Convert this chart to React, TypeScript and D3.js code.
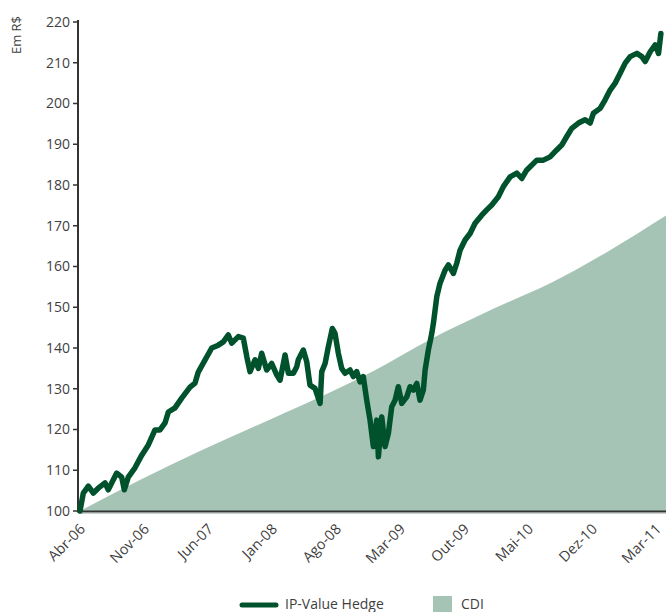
import * as d3 from "d3";

// months since Abr-06
const hedgeMonths = [
  0, 0.34, 0.85, 1.36, 1.86, 2.55, 2.88, 3.74, 4.25, 4.51, 4.92, 5.6, 6.29, 6.96,
  7.64, 8.15, 8.66, 9.0, 9.68, 10.36, 11.21, 11.72, 12.05, 12.56, 13.42, 14.09,
  14.6, 15.11, 15.46, 16.13, 16.64, 16.99, 17.32, 17.83, 18.17, 18.51, 19.02,
  19.53, 20.04, 20.38, 20.89, 21.23, 21.74, 22.08, 22.24, 22.75, 23.1, 23.43,
  23.94, 24.46, 24.63, 24.97, 25.3, 25.71, 25.98, 26.32, 26.66, 27.0, 27.51,
  27.85, 28.19, 28.53, 28.86, 29.21, 29.55, 29.89, 30.23, 30.4, 30.74, 31.08,
  31.42, 31.76, 32.1, 32.43, 32.78, 33.29, 33.63, 33.96, 34.31, 34.64, 34.98,
  35.16, 35.49, 35.84, 36.0, 36.35, 36.68, 37.19, 37.53, 38.04, 38.38, 38.72,
  39.23, 39.74, 40.25, 40.93, 41.44, 41.95, 42.62, 43.13, 43.82, 44.5, 45.01,
  45.52, 45.86, 46.54, 47.21, 47.89, 48.57, 49.08, 49.59, 50.1, 50.78, 51.46,
  51.97, 52.3, 52.99, 53.5, 54.01, 54.52, 55.03, 55.54, 56.05, 56.73, 57.24,
  57.58, 58.09, 58.6, 58.94, 59.18,
];
const hedgeValues = [
  100, 104.4, 106.1, 104.4, 105.6, 106.9, 105.2, 109.3, 108.3, 105.2, 108.3,
  110.6, 113.7, 116.2, 119.9, 119.9, 121.6, 124.3, 125.3, 127.7, 130.4, 131.4,
  134.1, 136.3, 140, 140.7, 141.5, 143.2, 141.2, 142.8, 142.4, 137.9, 134.2,
  137.1, 135, 138.7, 134.6, 136.2, 133.4, 132.1, 138.3, 133.8, 133.8, 135.4,
  137.1, 139.5, 136.6, 130.9, 130.1, 126.4, 134.2, 136.2, 140.3, 144.8, 143.6,
  138.7, 135, 133.8, 134.6, 133, 134.2, 131.7, 133, 127.2, 122.3, 115.8, 122.3,
  113.3, 123.1, 115.8, 119.1, 125.6, 127.2, 130.5, 126.4, 128, 130.5, 129.7,
  131.3, 127.2, 129.7, 134.6, 139.5, 143.6, 146, 152.6, 155.9, 159.1, 160.4,
  158.3, 160.8, 164, 166.5, 168.1, 170.6, 172.6, 173.9, 175.1, 177.1, 179.6, 182,
  182.9, 181.6, 183.7, 184.5, 186.1, 186.1, 186.9, 188.6, 189.8, 191.9, 193.9,
  195.2, 196, 195.2, 197.6, 198.8, 200.9, 203.3, 205, 207.4, 209.9, 211.5, 212.3,
  211.5, 210.3, 212.7, 214.4, 212.3, 217.2,
];

const cdiMonths = [0, 6, 12, 18, 24, 30, 36, 42, 48, 54, 59.7];
const cdiValues = [100, 107.5, 114.5, 121, 127.5, 134.5, 142.5, 149.5, 156, 164, 172.5];

const xLabels = [
  "Abr-06", "Nov-06", "Jun-07", "Jan-08", "Ago-08",
  "Mar-09", "Out-09", "Mai-10", "Dez-10", "Mar-11",
];
const yTicks = [100, 110, 120, 130, 140, 150, 160, 170, 180, 190, 200, 210, 220];

const width = 666;
const height = 612;
const marginLeft = 78;
const plotRight = 666;
const plotTop = 22;
const plotBottom = 511;

const lineColor = "#00522d";
const areaColor = "#a6c4b5";
const textColor = "#3f3f3f";
const font = "'Open Sans', 'Noto Sans', sans-serif";

const App = () => {
  const xScale = d3.scaleLinear().domain([0, 59.7]).range([80, plotRight]);
  const yScale = d3.scaleLinear().domain([100, 220]).range([plotBottom, plotTop]);
  const labelScale = d3.scalePoint<string>().domain(xLabels).range([86, 662]);

  const hedge = hedgeMonths.map((m, i) => ({ m, v: hedgeValues[i] }));
  const cdi = cdiMonths.map((m, i) => ({ m, v: cdiValues[i] }));

  const lineFunc = d3
    .line<{ m: number; v: number }>()
    .x((d) => xScale(d.m))
    .y((d) => yScale(d.v));

  const areaFunc = d3
    .area<{ m: number; v: number }>()
    .x((d) => xScale(d.m))
    .y0(yScale(100))
    .y1((d) => yScale(d.v))
    .curve(d3.curveMonotoneX);

  return (
    <svg
      width={width}
      height={height}
      style={{ position: "absolute", left: 0, top: 0, fontFamily: font }}
    >
      <path d={areaFunc(cdi) ?? ""} fill={areaColor} />

      {/* y axis */}
      <line x1={marginLeft} x2={marginLeft} y1={plotTop - 2} y2={plotBottom + 1} stroke="#333" strokeWidth={2} />
      {yTicks.map((t) => (
        <g key={t} transform={`translate(0, ${yScale(t)})`}>
          <line x1={marginLeft - 5} x2={marginLeft} stroke="#333" strokeWidth={1.5} />
          <text x={marginLeft - 8} dy="0.35em" textAnchor="end" fontSize={14} fill={textColor}>
            {t}
          </text>
        </g>
      ))}
      <text
        transform={`translate(21, 35) rotate(-90)`}
        textAnchor="middle"
        fontSize={13}
        fill={textColor}
      >
        Em R$
      </text>

      {/* x axis */}
      <line x1={marginLeft - 1} x2={plotRight} y1={plotBottom + 0.5} y2={plotBottom + 0.5} stroke="#333" strokeWidth={2} />
      <line x1={marginLeft} x2={plotRight} y1={plotBottom + 2.5} y2={plotBottom + 2.5} stroke="#c8d2cd" strokeWidth={1} />
      {xLabels.map((l) => (
        <text
          key={l}
          transform={`translate(${labelScale(l)}, 530) rotate(-45)`}
          textAnchor="end"
          fontSize={14.5}
          fill={textColor}
        >
          {l}
        </text>
      ))}

      <path
        d={lineFunc(hedge) ?? ""}
        fill="none"
        stroke={lineColor}
        strokeWidth={5.5}
        strokeLinejoin="round"
        strokeLinecap="round"
      />

      {/* legend */}
      <line x1={242} x2={276} y1={605} y2={605} stroke={lineColor} strokeWidth={5} strokeLinecap="round" />
      <text x={285} y={609} fontSize={14} fill={textColor}>
        IP-Value Hedge
      </text>
      <rect x={433} y={596} width={19} height={16} fill={areaColor} />
      <text x={461} y={609} fontSize={14} fill={textColor}>
        CDI
      </text>
    </svg>
  );
};

export default App;
